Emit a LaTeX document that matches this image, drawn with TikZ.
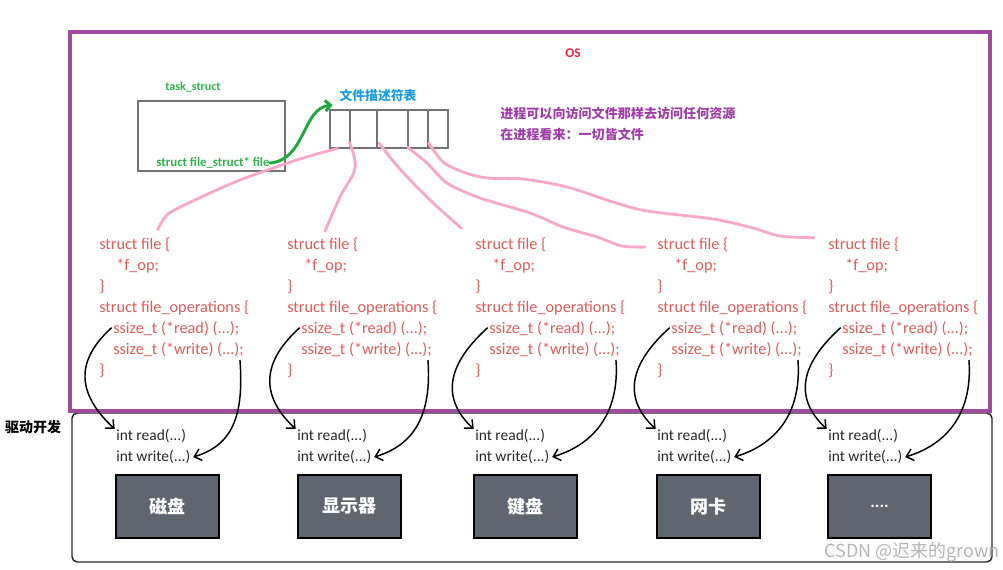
\documentclass[tikz,border=0pt]{standalone}
\usepackage{fontspec}
\setmainfont{Carlito}
\newfontfamily\cjk{Noto Sans CJK SC}
\usetikzlibrary{arrows.meta}
\definecolor{osred}{HTML}{EE2233}
\definecolor{ospurple}{HTML}{A04AA0}
\definecolor{txtpurple}{HTML}{A03CA8}
\definecolor{codered}{HTML}{E05A5A}
\definecolor{grn}{HTML}{2DB34A}
\definecolor{grnarrow}{HTML}{1FA83C}
\definecolor{blu}{HTML}{1A9CE0}
\definecolor{pinkline}{HTML}{F7A8C8}
\definecolor{devgray}{HTML}{5F6670}
\definecolor{wm}{HTML}{B4B4B4}
\tikzset{
  code/.style={anchor=west, inner sep=0pt, text=codered, font=\fontsize{12.2}{14}\selectfont},
  drv/.style={anchor=west, inner sep=0pt, text=black!85, font=\fontsize{11.6}{13}\selectfont},
  dev/.style={draw=black, line width=1.1pt, fill=devgray, minimum width=77.25pt, minimum height=47.25pt, inner sep=0pt, text=white, font=\cjk\bfseries\fontsize{13.5}{15}\selectfont},
  cell/.style={draw=black!55, line width=0.8pt, minimum height=28.5pt, inner sep=0pt},
  pinkpath/.style={draw=pinkline, line width=2.1pt, line cap=round, line join=round},
  arr/.style={draw=black, line width=1.1pt, -{Straight Barb[length=5pt,width=9pt]}},
}
\begin{document}
\begin{tikzpicture}[x=0.75pt,y=-0.75pt]
\useasboundingbox (0,0) rectangle (1003,570);
% lower driver box
\draw[black!85, line width=1.1pt, rounded corners=4pt] (72,413) rectangle (992,562);
% OS box
\draw[ospurple, line width=2.4pt] (70,32) rectangle (990,411);
\node[text=osred, font=\bfseries\fontsize{10}{12}\selectfont] (os) at (573,53) {OS};
% task_struct
\node[text=grn, font=\bfseries\fontsize{9}{11}\selectfont] (tslabel) at (193,87) {task\_struct};
\node[draw=black!55, line width=0.8pt, minimum width=110.25pt, minimum height=52.5pt, inner sep=0pt] (ts) at (211.5,136) {};
\node[text=grn, font=\bfseries\fontsize{9.6}{11}\selectfont, inner sep=0pt] (fs) at (213,163) {struct file\_struct* file};
% descriptor table
\node[text=blu, font=\cjk\bfseries\fontsize{9.6}{11}\selectfont, inner sep=1pt] (title) at (378,96) {文件描述符表};
\node[cell, minimum width=15pt] (c1) at (340,129) {};
\node[cell, minimum width=20.25pt] (c2) at (363.5,129) {};
\node[cell, minimum width=23.25pt] (c3) at (392.5,129) {};
\node[cell, minimum width=15pt] (c4) at (418,129) {};
\node[cell, minimum width=15pt] (c5) at (438,129) {};
% green arrow
\draw[grnarrow, line width=2.2pt, line cap=round, -{Straight Barb[length=4pt,width=8pt]}] (fs.east) .. controls (306,160) and (302,108) .. ([xshift=-4pt,yshift=-1pt]title.south west);
% purple notes
\node[anchor=west, text=txtpurple, font=\cjk\bfseries\fontsize{9.8}{11}\selectfont, inner sep=0pt] (n1) at (500,113) {进程可以向访问文件那样去访问任何资源};
\node[anchor=west, text=txtpurple, font=\cjk\bfseries\fontsize{9.8}{11}\selectfont, inner sep=0pt] (n2) at (500,134) {在进程看来：一切皆文件};
% code blocks and drivers
\foreach \i/\X/\D in {1/99/116, 2/287/297, 3/475/475, 4/657/657, 5/828/828} {
  \node[code] (sf\i) at (\X,245) {struct file \{};
  \node[code] (fo\i) at (\X+17,266) {*f\_op;};
  \node[code] (cb\i) at (\X,287) {\}};
  \node[code] (so\i) at (\X,308) {struct file\_operations \{};
  \node[code] (rd\i) at (\X+14,329) {ssize\_t (*read) (...);};
  \node[code] (wr\i) at (\X+14,350) {ssize\_t (*write) (...);};
  \node[code] (ce\i) at (\X,371) {\}};
  \node[drv] (dr\i) at (\D,436) {int read(...)};
  \node[drv] (dw\i) at (\D,457) {int write(...)};
  \draw[arr] ([xshift=-1pt,yshift=1pt]rd\i.west) .. controls +(-42,38) and +(-32,-30) .. ([xshift=-1pt]dr\i.north west);
  \draw[arr] ([xshift=-3pt,yshift=-2pt]wr\i.south east) .. controls +(4,55) and +(40,-12) .. ([xshift=2pt]dw\i.east);
}
% devices
\node[dev] (d1) at (167.5,506.5) {磁盘};
\node[dev] (d2) at (349.5,506.5) {显示器};
\node[dev] (d3) at (525.5,506.5) {键盘};
\node[dev] (d4) at (708.5,506.5) {网卡};
\node[dev, font=\bfseries\fontsize{13}{15}\selectfont] (d5) at (879.5,506.5) {....};
% driver label
\node[font=\cjk\bfseries\fontsize{10.5}{12}\selectfont] (drvlabel) at (33,427) {驱动开发};
% pink links
\draw[pinkpath] plot[smooth, tension=0.5] coordinates {([xshift=-2pt]c1.south) (300,159) (240,180) (195,200) (168,214) ([xshift=44pt,yshift=6pt]sf1.north west)};
\draw[pinkpath] plot[smooth, tension=0.6] coordinates {([yshift=4.5pt]c2.south west) (355,168) (340,197) ([xshift=28.5pt,yshift=5pt]sf2.north west)};
\draw[pinkpath] plot[smooth, tension=0.6] coordinates {([xshift=2pt,yshift=4pt]c3.south west) (399,168) (430,200) ([xshift=-10pt,yshift=7pt]sf3.north west)};
\draw[pinkpath] plot[smooth, tension=0.5] coordinates {([yshift=1pt]c4.south west) (427,163) (447,183) (480,198) (530,213) (563,227) (597,237) (622,246) ([xshift=-9pt,yshift=-7pt]sf4.north west)};
\draw[pinkpath] plot[smooth, tension=0.5] coordinates {([xshift=1pt,yshift=4pt]c5.south west) (443,162) (463,172) (487,178) (523,179) (567,187) (613,202) (647,211) (713,219) (753,228) (780,236) ([xshift=-10.5pt]sf5.north west)};
% watermark
\node[anchor=east, text=wm, font=\cjk\fontsize{13.5}{15}\selectfont, inner sep=0pt] (wmark) at (1000,552) {CSDN @迟来的grown};
\end{tikzpicture}
\end{document}
